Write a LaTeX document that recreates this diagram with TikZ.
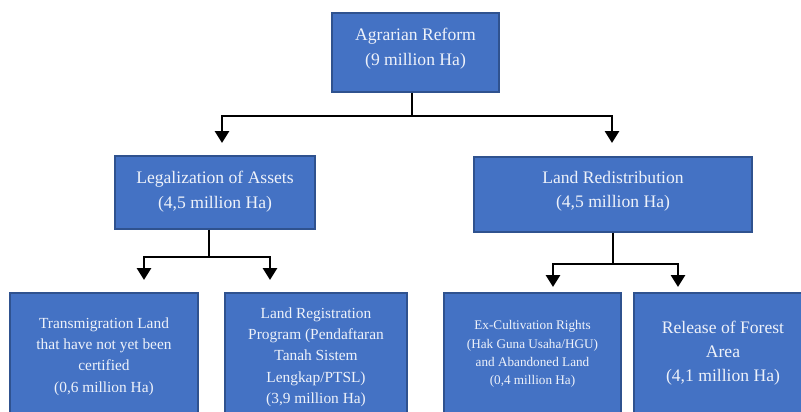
\documentclass[tikz,border=0pt]{standalone}
\usepackage{fontspec}
\setmainfont{Liberation Serif}
\usetikzlibrary{arrows.meta}
\definecolor{boxfill}{HTML}{4472C4}
\definecolor{boxline}{HTML}{2F528F}
\definecolor{boxtext}{HTML}{EEF2FA}
\tikzset{
  bx/.style={draw=boxline, line width=1.2pt, fill=boxfill, text=boxtext,
    align=center, inner sep=0pt, anchor=center},
  big/.style={font=\fontsize{17.6}{25}\selectfont},
  mid/.style={font=\fontsize{15.4}{21.3}\selectfont},
  sml/.style={font=\fontsize{13.2}{18.3}\selectfont},
  con/.style={line width=2.8pt, -{Triangle[width=14pt,length=12pt]}}
}
\begin{document}
\begin{tikzpicture}[x=1pt,y=-1pt]
\useasboundingbox (0,0) rectangle (801,412);
\begin{scope}
\clip (0,0) rectangle (801,412);
\node[bx,big,minimum width=167pt,minimum height=79pt] (top) at (415.5,52.5) {Agrarian Reform\\(9 million Ha)\rule[-11pt]{0pt}{11pt}};
\node[bx,big,minimum width=200pt,minimum height=73pt] (leg) at (215,192.5) {Legalization of Assets\\(4,5 million Ha)\rule[-6pt]{0pt}{6pt}};
\node[bx,big,font=\fontsize{17.6}{24}\selectfont,minimum width=278pt,minimum height=75pt] (red) at (613,194.5) {Land Redistribution\\(4,5 million Ha)\rule[-10pt]{0pt}{10pt}};
\node[bx,mid,minimum width=188pt,minimum height=127pt] (tra) at (104,356.5) {Transmigration Land\\that have not yet been\\certified\\(0,6 million Ha)};
\node[bx,mid,minimum width=182pt,minimum height=128pt] (reg) at (316,357) {Land Registration\\Program (Pendaftaran\\Tanah Sistem\\Lengkap/PTSL)\\(3,9 million Ha)};
\node[bx,sml,minimum width=177pt,minimum height=122pt] (exc) at (532.5,354) {Ex-Cultivation Rights\\(Hak Guna Usaha/HGU)\\and Abandoned Land\\(0,4 million Ha)};
\node[bx,font=\fontsize{17.6}{24}\selectfont,minimum width=178pt,minimum height=120pt] (rel) at (723,353) {Release of Forest\\Area\\(4,1 million Ha)};
\end{scope}
\coordinate (j0) at (412,116);
\coordinate (a1) at (222,143);
\coordinate (a2) at (612,143);
\coordinate (j1) at (209,257);
\coordinate (b1) at (144,280);
\coordinate (b2) at (270,280);
\coordinate (j2) at (613,264);
\coordinate (c1) at (553,287);
\coordinate (c2) at (678,287);
\draw[line width=2.8pt] (top.south -| j0) -- (j0);
\draw[con] (j0) -| (a1);
\draw[con] (j0) -| (a2);
\draw[line width=2.8pt] (leg.south -| j1) -- (j1);
\draw[con] (j1) -| (b1);
\draw[con] (j1) -| (b2);
\draw[line width=2.8pt] (red.south -| j2) -- (j2);
\draw[con] (j2) -| (c1);
\draw[con] (j2) -| (c2);
\end{tikzpicture}
\end{document}
